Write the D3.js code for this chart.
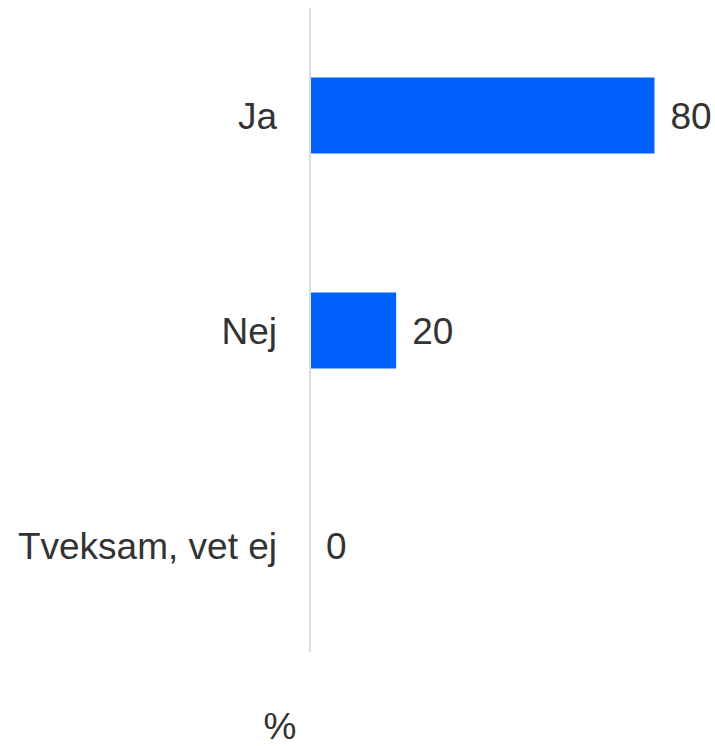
<!DOCTYPE html>
<html><head><meta charset="utf-8">
<script src="https://cdn.jsdelivr.net/npm/d3@7"></script>
<style>html,body{margin:0;padding:0;background:#fff;}svg{display:block;}</style>
</head><body>
<svg id="chart" width="715" height="746"></svg>
<script>
const categories = ["Ja", "Nej", "Tveksam, vet ej"];
const values = [80, 20, 0];
const unitLabel = "%";

const svg = d3.select("#chart");
const font = "'Liberation Sans', Arial, sans-serif";
const x = d3.scaleLinear().domain([0, 80]).range([310, 654.5]);
const y = d3.scaleBand().domain(categories).range([8, 653]).paddingInner(0.6465).paddingOuter(0.32325);

svg.append("line")
  .attr("x1", x(0)).attr("x2", x(0))
  .attr("y1", y.range()[0]).attr("y2", y.range()[1] - 1)
  .attr("stroke", "#dcdcdc").attr("stroke-width", 2);

svg.selectAll("rect.bar").data(categories).join("rect")
  .attr("class", "bar")
  .attr("x", x(0) + 1)
  .attr("y", d => y(d))
  .attr("width", (d, i) => Math.max(0, x(values[i]) - x(0) - 1))
  .attr("height", y.bandwidth())
  .attr("fill", "#0061ff");

svg.selectAll("text.cat").data(categories).join("text")
  .attr("class", "cat")
  .attr("x", x(0) - 33)
  .attr("y", d => y(d) + y.bandwidth() / 2 + 13)
  .attr("text-anchor", "end")
  .attr("font-family", font).attr("font-size", 37)
  .attr("fill", "#333333")
  .text(d => d);

svg.selectAll("text.val").data(categories).join("text")
  .attr("class", "val")
  .attr("x", (d, i) => x(values[i]) + 16)
  .attr("y", d => y(d) + y.bandwidth() / 2 + 13)
  .attr("font-family", font).attr("font-size", 37)
  .attr("fill", "#333333")
  .text((d, i) => values[i]);

svg.append("text")
  .attr("x", 280).attr("y", 739)
  .attr("text-anchor", "middle")
  .attr("font-family", font).attr("font-size", 37)
  .attr("fill", "#333333")
  .text(unitLabel);
</script>
</body></html>
